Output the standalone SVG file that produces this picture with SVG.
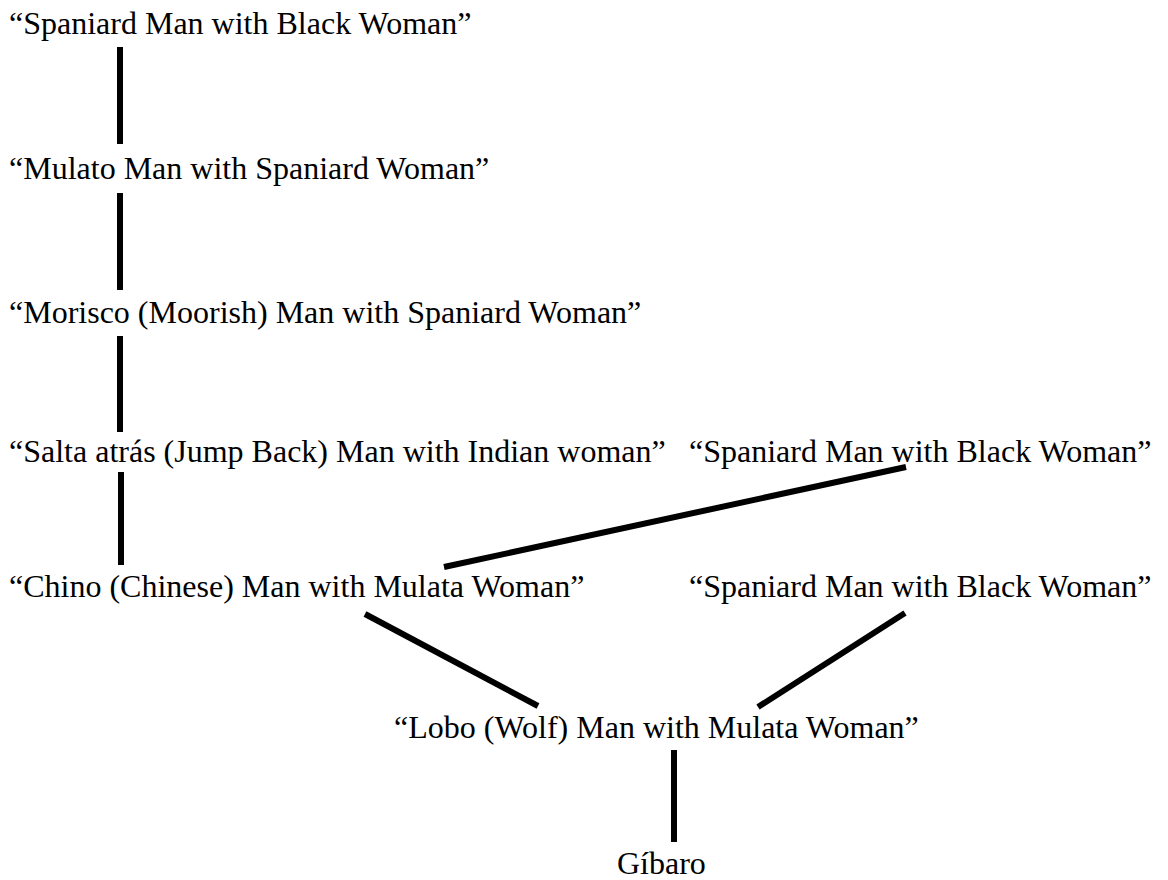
<svg xmlns="http://www.w3.org/2000/svg" width="1168" height="880" viewBox="0 0 1168 880">
<style>
.t{font-family:"Liberation Serif","Times New Roman",serif;font-size:32px;fill:#000}
.c line{stroke:#000;stroke-width:6;stroke-linecap:butt}
</style>
<rect width="1168" height="880" fill="#fff"/>
<g class="c" id="connectors">
<line x1="120" y1="47" x2="120" y2="144"/>
<line x1="120" y1="193" x2="120" y2="290"/>
<line x1="120" y1="336" x2="120" y2="432"/>
<line x1="121" y1="472" x2="121" y2="565"/>
<line x1="444" y1="567" x2="906" y2="467"/>
<line x1="365" y1="614" x2="538" y2="706"/>
<line x1="905" y1="613" x2="758" y2="707"/>
<line x1="674" y1="750" x2="674" y2="842"/>
</g>
<g id="n1"><text class="t" x="9" y="34">“Spaniard Man with Black Woman”</text></g>
<g id="n2"><text class="t" x="9" y="179">“Mulato Man with Spaniard Woman”</text></g>
<g id="n3"><text class="t" x="9" y="323">“Morisco (Moorish) Man with Spaniard Woman”</text></g>
<g id="n4"><text class="t" x="9" y="462">“Salta atrás (Jump Back) Man with Indian woman”</text></g>
<g id="n5"><text class="t" x="689" y="462">“Spaniard Man with Black Woman”</text></g>
<g id="n6"><text class="t" x="9" y="597">“Chino (Chinese) Man with Mulata Woman”</text></g>
<g id="n7"><text class="t" x="689" y="597">“Spaniard Man with Black Woman”</text></g>
<g id="n8"><text class="t" x="394" y="738">“Lobo (Wolf) Man with Mulata Woman”</text></g>
<g id="n9"><text class="t" x="617" y="874">Gíbaro</text></g>
</svg>
